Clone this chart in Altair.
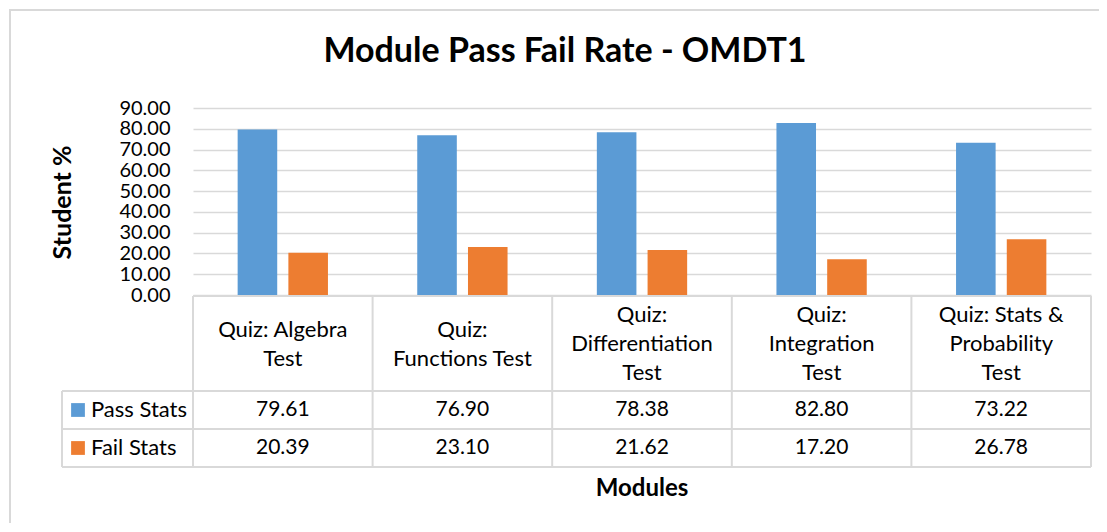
import altair as alt
import pandas as pd

categories = ["Quiz: Algebra Test", "Quiz: Functions Test", "Quiz: Differentiation Test",
              "Quiz: Integration Test", "Quiz: Stats & Probability Test"]
headers = ["Quiz: Algebra\nTest", "Quiz:\nFunctions Test", "Quiz:\nDifferentiation\nTest",
           "Quiz:\nIntegration\nTest", "Quiz: Stats &\nProbability\nTest"]
series = ["Pass Stats", "Fail Stats"]
pass_stats = [79.61, 76.90, 78.38, 82.80, 73.22]
fail_stats = [20.39, 23.10, 21.62, 17.20, 26.78]
colors = ["#5B9BD5", "#ED7D31"]

FONT = "Lato"
GRID = "#d9d9d9"
W, H = 898, 187

rows = []
for c, p, f in zip(categories, pass_stats, fail_stats):
    rows.append({"category": c, "series": "Pass Stats", "value": p, "label": f"{p:.2f}"})
    rows.append({"category": c, "series": "Fail Stats", "value": f, "label": f"{f:.2f}"})
df = pd.DataFrame(rows)
cat_df = pd.DataFrame({"category": categories, "header": headers,
                       "nlines": [h.count("\n") + 1 for h in headers]})
ser_df = pd.DataFrame({"series": series})
one = pd.DataFrame({"a": [0]})

xcat = alt.X("category:N", scale=alt.Scale(domain=categories, paddingInner=0, paddingOuter=0), axis=None)
color = alt.Color("series:N", scale=alt.Scale(domain=series, range=colors), legend=None)
yrow = alt.Y("series:N", scale=alt.Scale(domain=series, range=[283, 359], paddingInner=0, paddingOuter=0), axis=None)

border = alt.Chart(one).mark_rect(filled=False, stroke=GRID, strokeWidth=2).encode(
    x=alt.value(-183), x2=alt.value(1000), y=alt.value(-98), y2=alt.value(700))

bars = alt.Chart(df).mark_bar().encode(
    x=xcat,
    xOffset=alt.XOffset("series:N", scale=alt.Scale(domain=series, paddingInner=0.22, paddingOuter=0.88)),
    y=alt.Y("value:Q", scale=alt.Scale(domain=[0, 90], nice=False),
            axis=alt.Axis(values=list(range(0, 100, 10)), format=".2f", title="Student %",
                          labelFont=FONT, labelFontSize=20, labelColor="black", labelPadding=23,
                          labelOverlap=False, labelBound=False,
                          ticks=False, tickSize=0, domain=False, gridColor=GRID, gridWidth=1.5,
                          titleFont=FONT, titleFontSize=25, titleFontWeight="bold", titleColor="black",
                          titleX=-131, titleY=94, titleAlign="center", titleBaseline="middle")),
    color=color,
)

title = alt.Chart(one).mark_text(text="Module Pass Fail Rate - OMDT1", font=FONT, fontSize=34,
                                 fontWeight="bold", color="black", baseline="middle").encode(
    x=alt.value(372), y=alt.value(-56))

xtitle = alt.Chart(one).mark_text(text="Modules", font=FONT, fontSize=24, fontWeight="bold",
                                  color="black", baseline="middle").encode(
    x=alt.value(W / 2), y=alt.value(381))

header_style = dict(font=FONT, fontSize=22, color="black", lineBreak="\n", lineHeight=29, baseline="middle")
header2 = alt.Chart(cat_df).transform_filter("datum.nlines == 2").mark_text(**header_style).encode(
    x=xcat, y=alt.value(222), text="header:N")
header3 = alt.Chart(cat_df).transform_filter("datum.nlines == 3").mark_text(**header_style).encode(
    x=xcat, y=alt.value(207), text="header:N")

value_text = alt.Chart(df).mark_text(font=FONT, fontSize=21, color="black", baseline="middle").encode(
    x=xcat, y=yrow, text="label:N")

leg_sq = alt.Chart(ser_df).mark_point(shape="square", filled=True, size=190, opacity=1).encode(
    x=alt.value(-115), y=yrow, color=color)

leg_txt = alt.Chart(ser_df).mark_text(font=FONT, fontSize=22, color="black", align="left",
                                      baseline="middle").encode(
    x=alt.value(-102), y=yrow, text="series:N")

rule_style = dict(color=GRID, strokeWidth=2)
vlines = alt.Chart(cat_df).mark_rule(**rule_style).encode(
    x=alt.X("category:N", scale=alt.Scale(domain=categories, paddingInner=0, paddingOuter=0),
            axis=None, bandPosition=0),
    y=alt.value(188), y2=alt.value(359))
vright = alt.Chart(one).mark_rule(**rule_style).encode(x=alt.value(W), y=alt.value(188), y2=alt.value(359))
vleft = alt.Chart(one).mark_rule(**rule_style).encode(x=alt.value(-131), y=alt.value(283), y2=alt.value(359))
htop = alt.Chart(one).mark_rule(**rule_style).encode(x=alt.value(0), x2=alt.value(W), y=alt.value(188))
h1 = alt.Chart(one).mark_rule(**rule_style).encode(x=alt.value(-131), x2=alt.value(W), y=alt.value(283))
h2 = alt.Chart(one).mark_rule(**rule_style).encode(x=alt.value(-131), x2=alt.value(W), y=alt.value(321))
h3 = alt.Chart(one).mark_rule(**rule_style).encode(x=alt.value(-131), x2=alt.value(W), y=alt.value(359))

chart = alt.layer(
    border, bars, vlines, vright, vleft, htop, h1, h2, h3,
    header2, header3, value_text, leg_sq, leg_txt, title, xtitle
).resolve_scale(y="independent").properties(
    width=W, height=H,
    autosize=alt.AutoSizeParams(type="none"),
    padding={"left": 185, "top": 100, "right": 8, "bottom": 228},
    background="white",
).configure_view(stroke=None)

chart.save("out.html", embed_options={"renderer": "svg", "actions": False})
